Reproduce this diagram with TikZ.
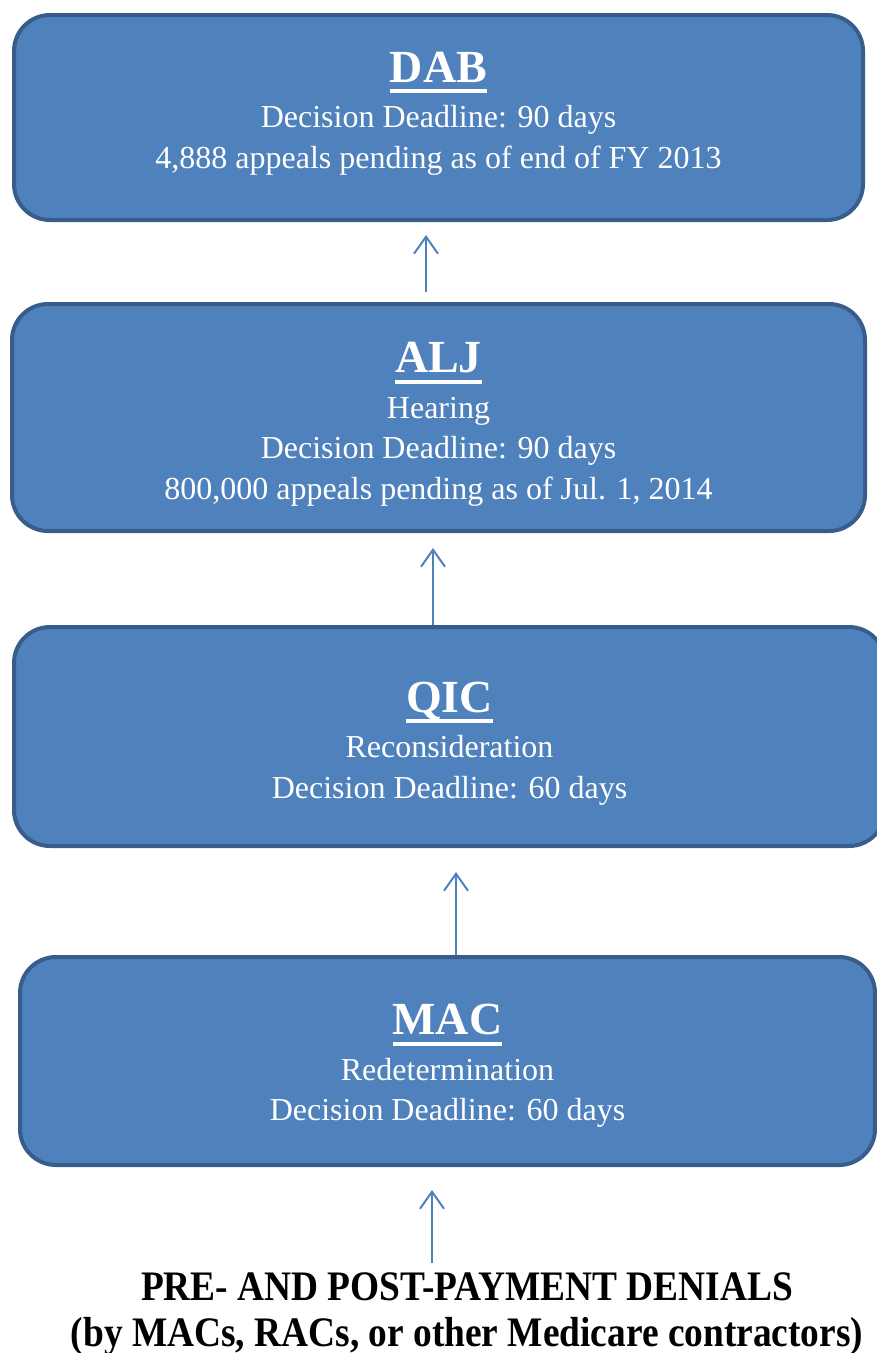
\documentclass[tikz,border=0pt]{standalone}
\usepackage{fontspec}
\setmainfont{Liberation Serif}
\newfontfamily\denialfont[FakeStretch=0.89]{Liberation Serif}
\usetikzlibrary{arrows.meta}
\definecolor{stagefill}{HTML}{4F81BD}
\definecolor{stageline}{HTML}{385D8A}
\tikzstyle{stage} = [rectangle, rounded corners=36pt, draw=stageline, line width=4pt, fill=stagefill]
\tikzstyle{stagetext} = [text=white, align=center, inner sep=0pt, font=\fontsize{32}{40.5}\selectfont]
\tikzstyle{denial} = [align=center, inner sep=0pt, font=\denialfont\bfseries\fontsize{42}{46}\selectfont]
\tikzstyle{arrow} = [draw=stagefill, line width=2pt, -{Straight Barb[length=17pt,width=24pt]}]
\newcommand{\stagetitle}[1]{\setbox0=\hbox{\fontsize{46}{46}\selectfont\bfseries #1}\copy0\llap{\smash{\rule[-11pt]{\wd0}{4pt}}}}

\begin{document}
\begin{tikzpicture}[x=1pt, y=1pt]
\useasboundingbox (0,0) rectangle (877,-1353);

\node (dab) [stage, minimum width=849pt, minimum height=205pt] at (438.5,-117.5) {};
\node (alj) [stage, minimum width=853pt, minimum height=227pt] at (438.5,-417.5) {};
\node (qic) [stage, minimum width=871pt, minimum height=219pt] at (449.5,-736.5) {};
\node (mac) [stage, minimum width=855pt, minimum height=208pt] at (447.5,-1061) {};

\node (dabtext) [stagetext] at ([yshift=4pt]dab.center) {\stagetitle{DAB}\\[5pt] Decision Deadline: 90 days\\ 4,888 appeals pending as of end of FY 2013};
\node (aljtext) [stagetext] at ([yshift=-7pt]alj.center) {\stagetitle{ALJ}\\[5pt] Hearing\\ Decision Deadline: 90 days\\ 800,000 appeals pending as of Jul. 1, 2014};
\node (qictext) [stagetext] at ([yshift=-7pt]qic.center) {\stagetitle{QIC}\\[5pt] Reconsideration\\ Decision Deadline: 60 days};
\node (mactext) [stagetext] at ([yshift=-5pt]mac.center) {\stagetitle{MAC}\\[5pt] Redetermination\\ Decision Deadline: 60 days};
\node (denials) [denial, anchor=north] at (467,-1272) {PRE- AND POST-PAYMENT DENIALS\\ (by MACs, RACs, or other Medicare contractors)};

\draw [arrow] ([xshift=-12.5pt, yshift=10pt]alj.north) -- ([xshift=-12.5pt, yshift=-13pt]dab.south);
\draw [arrow] ([xshift=-16.5pt]qic.north) -- ([xshift=-5.5pt, yshift=-15pt]alj.south);
\draw [arrow] ([xshift=8.5pt]mac.north) -- ([xshift=6.5pt, yshift=-24pt]qic.south);
\draw [arrow] ([xshift=-35pt, yshift=9pt]denials.north) -- ([xshift=-15.5pt, yshift=-23pt]mac.south);
\end{tikzpicture}
\end{document}
